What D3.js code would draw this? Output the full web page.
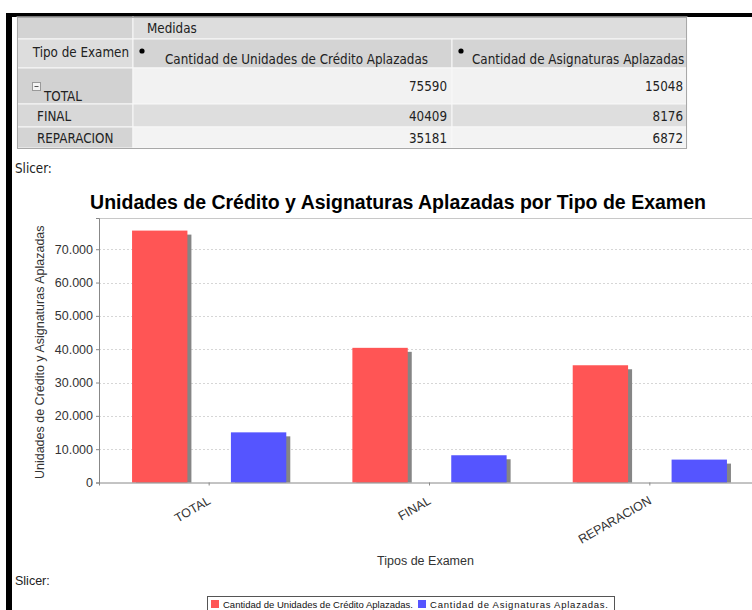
<!DOCTYPE html>
<html><head><meta charset="utf-8">
<script src="https://cdn.jsdelivr.net/npm/d3@7"></script>
<style>
html,body{margin:0;padding:0;background:#fff;}
svg{display:block;}
</style></head>
<body>
<svg id="c" width="752" height="610"></svg>
<script>
const categories = ["TOTAL", "FINAL", "REPARACION"];
const seriesNames = ["Cantidad de Unidades de Crédito Aplazadas", "Cantidad de Asignaturas Aplazadas"];
const creditUnits = [75590, 40409, 35181];
const subjects = [15048, 8176, 6872];
const yTicks = [0, 10000, 20000, 30000, 40000, 50000, 60000, 70000];
const colors = ["#ff5555", "#5555ff"];
const title = "Unidades de Crédito y Asignaturas Aplazadas por Tipo de Examen";
const yTitle = "Unidades de Crédito y Asignaturas Aplazadas";
const xTitle = "Tipos de Examen";

const svg = d3.select("#c");
const SANS = "'Liberation Sans', Arial, sans-serif";
const TAB = "'DejaVu Sans Condensed', 'DejaVu Sans', sans-serif";

// page frame
svg.append("rect").attr("x",0).attr("y",0).attr("width",752).attr("height",610).attr("fill","#fff");
svg.append("rect").attr("x",6).attr("y",13).attr("width",746).attr("height",4).attr("fill","#000");
svg.append("rect").attr("x",6).attr("y",13).attr("width",6).attr("height",597).attr("fill","#000");

// ---------- pivot table ----------
const tb = svg.append("g");
const colX = [17, 133, 452, 687];
const rowY = [17, 39, 68, 104, 127, 148];
const rows = categories.map((c,i)=>({name:c, a:creditUnits[i], b:subjects[i]}));

function cell(x0,x1,y0,y1,fill){
  tb.append("rect").attr("x",x0).attr("y",y0).attr("width",x1-x0).attr("height",y1-y0)
    .attr("fill",fill).attr("stroke","#f8f8f8").attr("stroke-width",1);
}
// row 1
cell(colX[0],colX[1],rowY[0],rowY[1],"#d3d3d3");
cell(colX[1],colX[3],rowY[0],rowY[1],"#dddddd");
tb.append("text").attr("x",147).attr("y",33).text("Medidas");
// row 2
cell(colX[0],colX[1],rowY[1],rowY[2],"#dddddd");
cell(colX[1],colX[2],rowY[1],rowY[2],"#d4d4d4");
cell(colX[2],colX[3],rowY[1],rowY[2],"#d4d4d4");
tb.append("text").attr("x",129).attr("y",57).attr("text-anchor","end").text("Tipo de Examen");
seriesNames.forEach((s,i)=>{
  const x0 = colX[i+1];
  tb.append("circle").attr("cx",x0+9).attr("cy",51).attr("r",2.6).attr("fill","#000");
  tb.append("text").attr("x",x0+(i===0?32:20)).attr("y",64).text(s);
});
// data rows
const rowFillL = ["#d2d2d2","#d8d8d8","#d4d4d4"];
const rowFillR = ["#f2f2f2","#dedede","#f3f3f3"];
rows.forEach((r,i)=>{
  const y0=rowY[i+2], y1=rowY[i+3];
  cell(colX[0],colX[1],y0,y1,rowFillL[i]);
  cell(colX[1],colX[2],y0,y1,rowFillR[i]);
  cell(colX[2],colX[3],y0,y1,rowFillR[i]);
  if(i===0){
    tb.append("rect").attr("x",32.5).attr("y",82.5).attr("width",8).attr("height",8)
      .attr("fill","#f4f4f4").attr("stroke","#9a9a9a");
    tb.append("line").attr("x1",34.5).attr("x2",38.5).attr("y1",86.5).attr("y2",86.5).attr("stroke","#555");
    tb.append("text").attr("x",44).attr("y",101).text(r.name);
    tb.append("text").attr("x",447).attr("y",91).attr("text-anchor","end").text(r.a);
    tb.append("text").attr("x",683).attr("y",91).attr("text-anchor","end").text(r.b);
  } else {
    const yb = (y0+y1)/2+5;
    tb.append("text").attr("x",37).attr("y",yb).text(r.name);
    tb.append("text").attr("x",447).attr("y",yb).attr("text-anchor","end").text(r.a);
    tb.append("text").attr("x",683).attr("y",yb).attr("text-anchor","end").text(r.b);
  }
});
tb.append("rect").attr("x",colX[0]+0.5).attr("y",rowY[0]+0.5).attr("width",colX[3]-colX[0]-1)
  .attr("height",rowY[5]-rowY[0]).attr("fill","none").attr("stroke","#a8a8a8");
tb.selectAll("text").attr("font-family",TAB).attr("font-size","13.3px").attr("fill","#222");

svg.append("text").attr("x",15).attr("y",173).attr("font-family",TAB).attr("font-size","13.3px")
  .attr("fill","#222").text("Slicer:");

// ---------- chart ----------
const plot = {left:99, right:760, top:218, bottom:482.5};
const y = d3.scaleLinear().domain([0, d3.max(creditUnits)*1.05]).range([plot.bottom, plot.top]);
const x = d3.scaleBand().domain(categories).range([plot.left, plot.right]);
const bw = x.bandwidth();
const xs = d3.scaleBand().domain([0,1]).range([bw*0.15, bw*0.85]).paddingInner(0.44);

const ch = svg.append("g");
ch.append("text").attr("x",398).attr("y",209).attr("text-anchor","middle")
  .attr("font-family",SANS).attr("font-weight","bold").attr("font-size","19.5px").attr("fill","#000").text(title);

// plot outline top
ch.append("line").attr("x1",plot.left).attr("x2",752).attr("y1",plot.top+0.5).attr("y2",plot.top+0.5)
  .attr("stroke","#c8c8c8");
// gridlines
ch.selectAll(".grid").data(yTicks.filter(d=>d>0)).join("line")
  .attr("x1",plot.left).attr("x2",752)
  .attr("y1",d=>Math.round(y(d))+0.5).attr("y2",d=>Math.round(y(d))+0.5)
  .attr("stroke","#d6d6d6").attr("stroke-dasharray","2,2");

const data = [];
categories.forEach((c,i)=>{
  [creditUnits[i], subjects[i]].forEach((v,j)=>data.push({c, j, v}));
});
// shadows
ch.selectAll(".sh").data(data).join("rect")
  .attr("x",d=>x(d.c)+xs(d.j)+4).attr("y",d=>y(d.v)+4)
  .attr("width",xs.bandwidth()).attr("height",d=>Math.max(0,plot.bottom-y(d.v)-4))
  .attr("fill","#858585");
// bars
ch.selectAll(".bar").data(data).join("rect")
  .attr("x",d=>x(d.c)+xs(d.j)).attr("y",d=>y(d.v))
  .attr("width",xs.bandwidth()).attr("height",d=>plot.bottom-y(d.v))
  .attr("fill",d=>colors[d.j]);

// y axis
const fmt = d=>d3.format(",")(d).replace(/,/g,".");
const ya = ch.append("g").attr("transform",`translate(${plot.left},0)`)
  .call(d3.axisLeft(y).tickValues(yTicks).tickFormat(fmt).tickSize(3).tickPadding(3));
ya.select(".domain").attr("stroke","#888");
ya.selectAll(".tick line").attr("stroke","#888");
ya.selectAll("text").attr("font-family",SANS).attr("font-size","12.5px").attr("fill","#333");

// x axis
const xa = ch.append("g").attr("transform",`translate(0,${plot.bottom})`)
  .call(d3.axisBottom(x).tickSize(3).tickFormat(""));
xa.select(".domain").attr("stroke","#888");
xa.selectAll(".tick line").attr("stroke","#888");
ch.selectAll(".xl").data(categories).join("text")
  .attr("transform",d=>`translate(${x(d)+bw/2-2},${plot.bottom+13}) rotate(-30)`)
  .attr("text-anchor","end").attr("dy","0.7em")
  .attr("font-family",SANS).attr("font-size","12.5px").attr("fill","#333").text(d=>d);

ch.append("text").attr("x",(plot.left+plot.right)/2-4).attr("y",565).attr("text-anchor","middle")
  .attr("font-family",SANS).attr("font-size","12.5px").attr("fill","#333").text(xTitle);
ch.append("text").attr("transform",`translate(44,${(plot.top+plot.bottom)/2+2}) rotate(-90)`)
  .attr("text-anchor","middle")
  .attr("font-family",SANS).attr("font-size","12.5px").attr("fill","#333").text(yTitle);

svg.append("text").attr("x",15).attr("y",585).attr("font-family",SANS).attr("font-size","12.5px")
  .attr("fill","#222").text("Slicer:");

// legend
const lg = svg.append("g");
lg.append("rect").attr("x",207.5).attr("y",596.5).attr("width",407).attr("height",20)
  .attr("fill","#fff").attr("stroke","#555");
const legX = [211, 418];
const legW = [190, 178];
seriesNames.forEach((s,i)=>{
  lg.append("rect").attr("x",legX[i]).attr("y",600).attr("width",8).attr("height",8).attr("fill",colors[i]);
  lg.append("text").attr("x",legX[i]+12).attr("y",607.5).attr("font-family",SANS).attr("font-size","9.5px")
    .attr("textLength",legW[i]).attr("lengthAdjust","spacing").attr("fill","#111").text(s+".");
});
</script>
</body></html>
